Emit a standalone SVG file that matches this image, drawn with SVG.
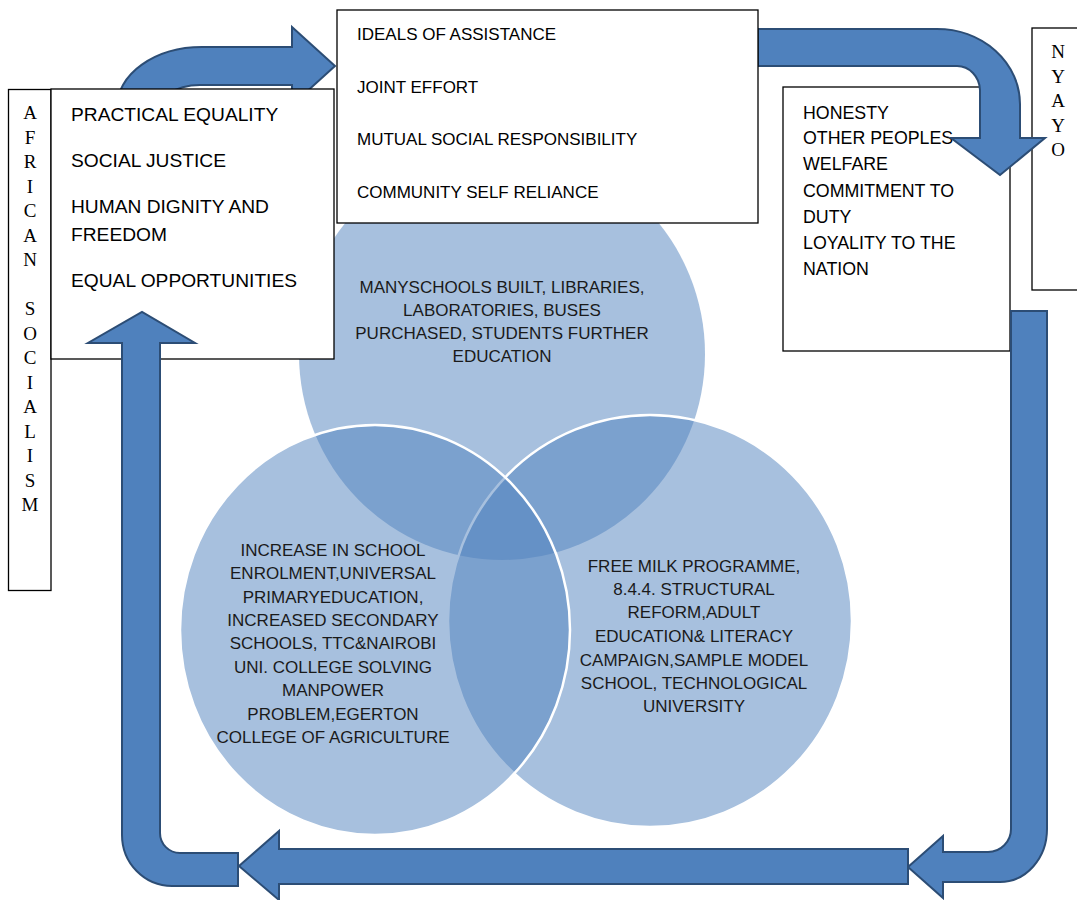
<svg xmlns="http://www.w3.org/2000/svg" width="1077" height="900" viewBox="0 0 1077 900">
<style>
.bg{fill:#ffffff}
.venn{fill:#4F81BD;fill-opacity:0.5}
.vline{stroke:#ffffff;stroke-width:2.5}
.box{fill:#ffffff;stroke:#000000;stroke-width:1.3}
.arrow{fill:#4F81BD;stroke:#2C4D75;stroke-width:2;stroke-linejoin:miter}
.bt{font-family:"Liberation Sans",Arial,sans-serif;fill:#000000}
.ct{font-family:"Liberation Sans",Arial,sans-serif;font-size:17px;fill:#1a1a1a;text-anchor:middle}
.st{font-family:"Liberation Serif","Times New Roman",serif;font-size:19px;fill:#000000;text-anchor:middle}
</style>
<rect class="bg" x="0" y="0" width="1077" height="900"/>

<g id="venn-top">
<ellipse class="venn" cx="502" cy="354" rx="203" ry="206"/>
<text class="ct" x="502" y="293">MANYSCHOOLS BUILT, LIBRARIES,</text>
<text class="ct" x="502" y="316">LABORATORIES, BUSES</text>
<text class="ct" x="502" y="339">PURCHASED, STUDENTS FURTHER</text>
<text class="ct" x="502" y="362">EDUCATION</text>
</g>
<g id="venn-right">
<ellipse class="venn vline" cx="650" cy="621" rx="202" ry="206"/>
</g>
<g id="venn-left">
<ellipse class="venn vline" cx="375" cy="630" rx="195" ry="205"/>
</g>
<g id="venn-left-text">
<text class="ct" x="333" y="556">INCREASE IN SCHOOL</text>
<text class="ct" x="333" y="579">ENROLMENT,UNIVERSAL</text>
<text class="ct" x="333" y="603">PRIMARYEDUCATION,</text>
<text class="ct" x="333" y="626">INCREASED SECONDARY</text>
<text class="ct" x="333" y="649">SCHOOLS, TTC&amp;NAIROBI</text>
<text class="ct" x="333" y="673">UNI. COLLEGE SOLVING</text>
<text class="ct" x="333" y="696">MANPOWER</text>
<text class="ct" x="333" y="720">PROBLEM,EGERTON</text>
<text class="ct" x="333" y="743">COLLEGE OF AGRICULTURE</text>
</g>
<g id="venn-right-text">
<text class="ct" x="694" y="572">FREE MILK PROGRAMME,</text>
<text class="ct" x="694" y="595">8.4.4. STRUCTURAL</text>
<text class="ct" x="694" y="618">REFORM,ADULT</text>
<text class="ct" x="694" y="642">EDUCATION&amp; LITERACY</text>
<text class="ct" x="694" y="666">CAMPAIGN,SAMPLE MODEL</text>
<text class="ct" x="694" y="689">SCHOOL, TECHNOLOGICAL</text>
<text class="ct" x="694" y="712">UNIVERSITY</text>
</g>

<g id="connectors-back">
<path class="arrow" d="M117 150 L117 107 A85 60 0 0 1 202 47 L292 47 L292 27 L335 66 L292 105 L292 85 L200 85 A45 30 0 0 0 155 115 L155 150 Z"/>
</g>

<g id="honesty">
<rect class="box" x="783" y="87" width="227" height="264"/>
<text class="bt" font-size="17.8" x="803" y="118.5">HONESTY</text>
<text class="bt" font-size="17.8" x="803" y="143.5">OTHER PEOPLES</text>
<text class="bt" font-size="17.8" x="803" y="169.5">WELFARE</text>
<text class="bt" font-size="17.8" x="803" y="196.5">COMMITMENT TO</text>
<text class="bt" font-size="17.8" x="803" y="222.5">DUTY</text>
<text class="bt" font-size="17.8" x="803" y="248.5">LOYALITY TO THE</text>
<text class="bt" font-size="17.8" x="803" y="274.5">NATION</text>
</g>
<g id="nyayo">
<rect class="box" x="1032" y="28" width="60" height="262"/>
<text class="st" x="1058" y="58">N</text>
<text class="st" x="1058" y="82.5">Y</text>
<text class="st" x="1058" y="107">A</text>
<text class="st" x="1058" y="131.5">Y</text>
<text class="st" x="1058" y="156">O</text>
</g>

<g id="connectors-top-right">
<path class="arrow" d="M758 29 L937 29 A83 75 0 0 1 1020 104 L1020 138 L1045 138 L1000 175 L951 138 L980 138 L980 90 A23 25 0 0 0 957 66 L758 66 Z"/>
</g>

<g id="ideals">
<rect class="box" x="337" y="10" width="421" height="213"/>
<text class="bt" font-size="17" x="357" y="40">IDEALS OF ASSISTANCE</text>
<text class="bt" font-size="17" x="357" y="93">JOINT EFFORT</text>
<text class="bt" font-size="17" x="357" y="145">MUTUAL SOCIAL RESPONSIBILITY</text>
<text class="bt" font-size="17" x="357" y="198">COMMUNITY SELF RELIANCE</text>
</g>

<g id="african-socialism">
<rect class="box" x="8.5" y="89.5" width="42.5" height="501"/>
<text class="st" x="30" y="119">A</text>
<text class="st" x="30" y="143.5">F</text>
<text class="st" x="30" y="168">R</text>
<text class="st" x="30" y="192.5">I</text>
<text class="st" x="30" y="217">C</text>
<text class="st" x="30" y="241.5">A</text>
<text class="st" x="30" y="266">N</text>
<text class="st" x="30" y="315">S</text>
<text class="st" x="30" y="339.5">O</text>
<text class="st" x="30" y="364">C</text>
<text class="st" x="30" y="388.5">I</text>
<text class="st" x="30" y="413">A</text>
<text class="st" x="30" y="437.5">L</text>
<text class="st" x="30" y="462">I</text>
<text class="st" x="30" y="486.5">S</text>
<text class="st" x="30" y="511">M</text>
</g>
<g id="values">
<rect class="box" x="51" y="89" width="283" height="270"/>
<text class="bt" font-size="19.2" x="71" y="121">PRACTICAL EQUALITY</text>
<text class="bt" font-size="19.2" x="71" y="167">SOCIAL JUSTICE</text>
<text class="bt" font-size="19.2" x="71" y="213">HUMAN DIGNITY AND</text>
<text class="bt" font-size="19.2" x="71" y="241">FREEDOM</text>
<text class="bt" font-size="19.2" x="71" y="287">EQUAL OPPORTUNITIES</text>
</g>

<g id="connectors">
<path class="arrow" d="M1011 311 L1047 311 L1047 829 A47 53 0 0 1 1000 882 L943 882 L943 898 L908 867 L943 836 L943 852 L988 852 A23 23 0 0 0 1011 829 Z"/>
<path class="arrow" d="M908 849 L279 849 L279 831 L239 866 L279 900 L279 884 L908 884 Z"/>
<path class="arrow" d="M238 853 L180 853 A20 20 0 0 1 160 833 L160 343 L195 343 L142 312 L88 343 L122 343 L122 835 A50 51 0 0 0 172 886 L238 886 Z"/>
</g>
</svg>
